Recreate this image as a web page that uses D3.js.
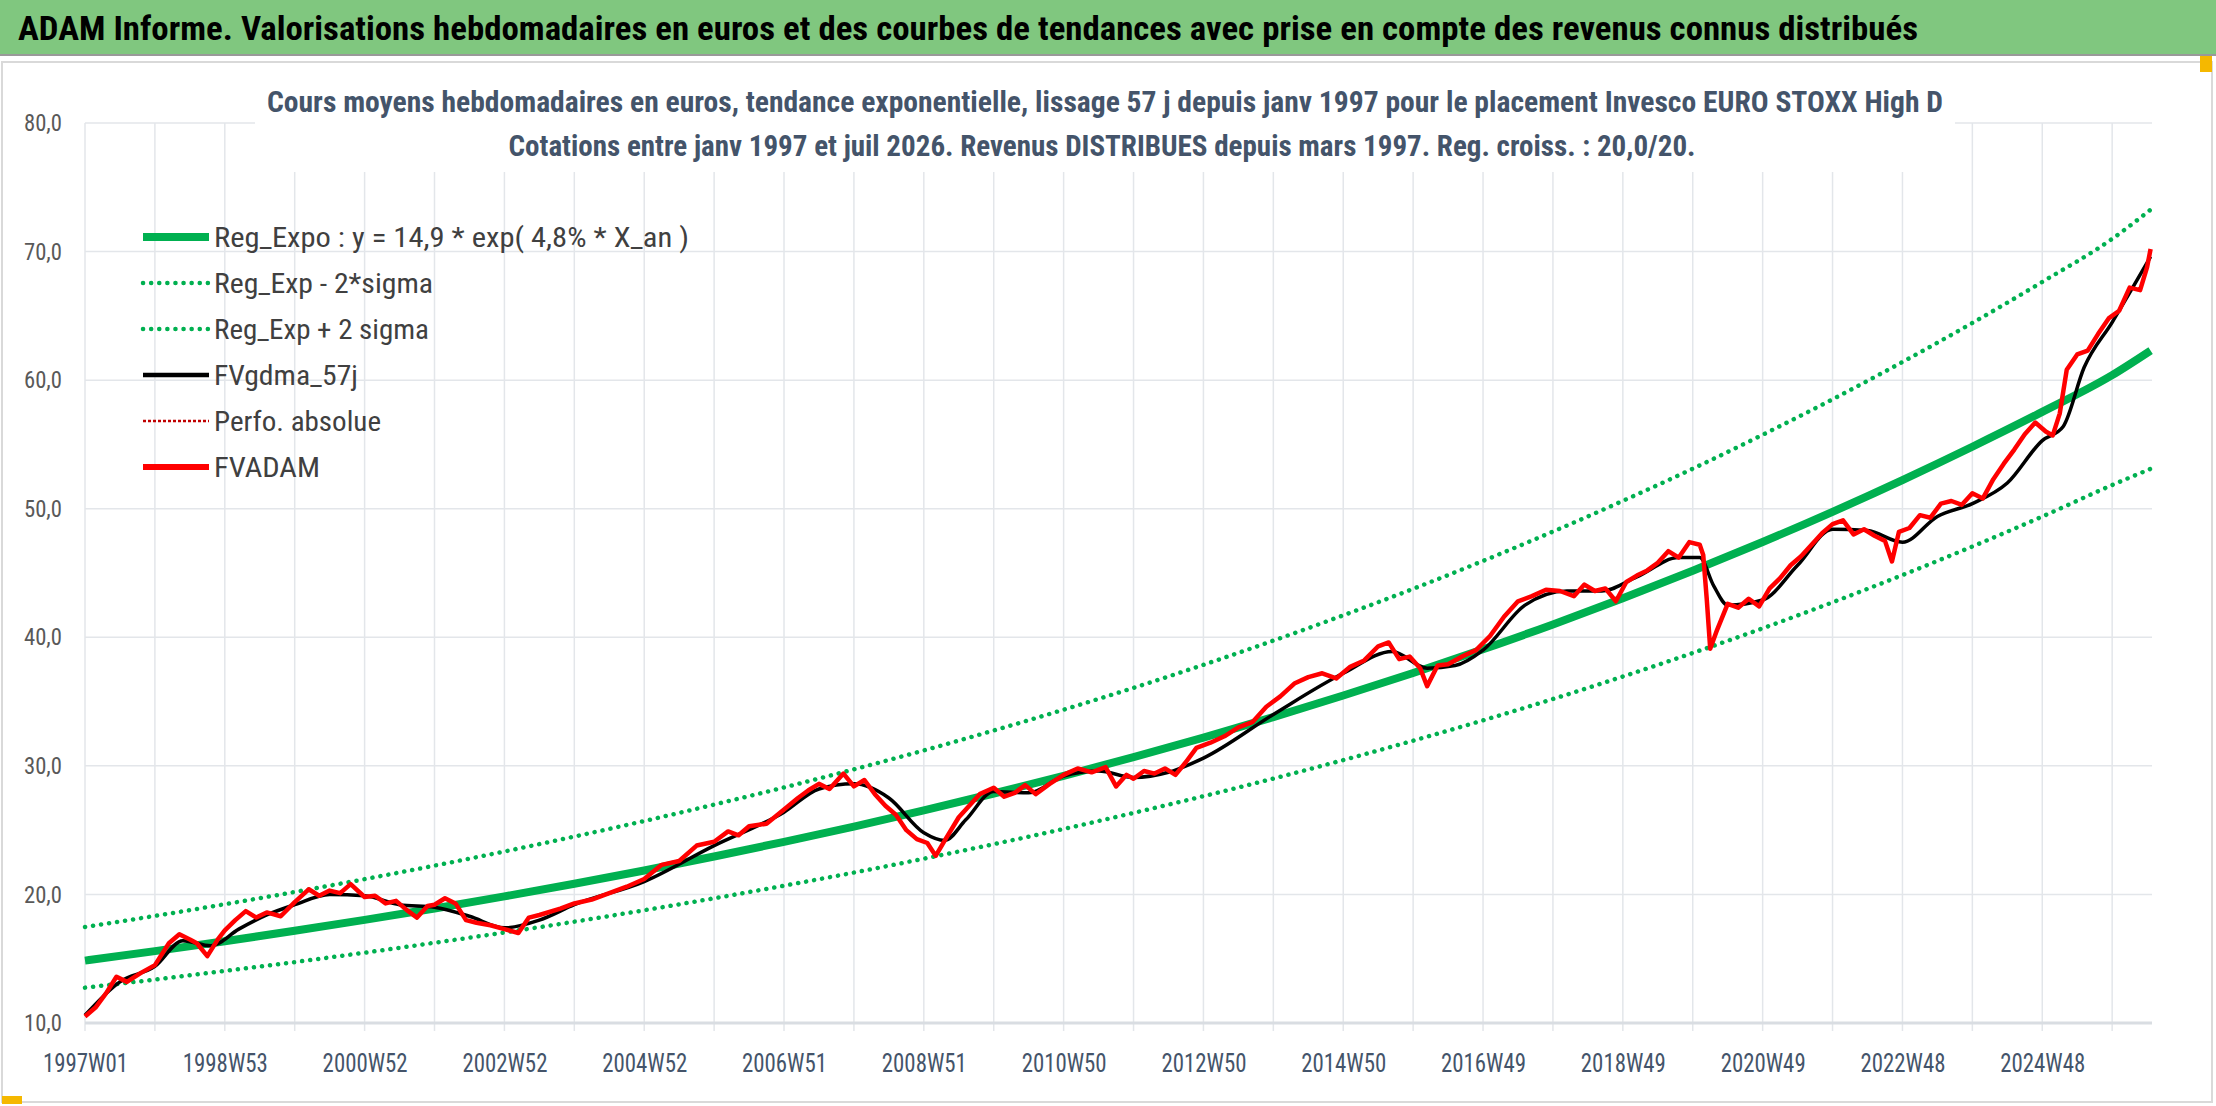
<!DOCTYPE html>
<html><head><meta charset="utf-8">
<script src="https://cdn.jsdelivr.net/npm/d3@7"></script>
<style>body{margin:0;background:#fff}svg{display:block}text{font-family:"Liberation Sans Narrow","Roboto Condensed",Roboto,sans-serif}</style>
</head><body><svg id="c" width="2216" height="1106"></svg>
<script>
const tickYears=[1997,1999,2001,2003,2005,2007,2009,2011,2013,2015,2017,2019,2021,2023,2025];
const tickLabels=["1997W01","1998W53","2000W52","2002W52","2004W52","2006W51","2008W51","2010W50","2012W50","2014W50","2016W49","2018W49","2020W49","2022W48","2024W48"];
const yTicks=[10,20,30,40,50,60,70,80];
const trendYears=[1997,1998,1999,2000,2001,2002,2003,2004,2005,2006,2007,2008,2009,2010,2011,2012,2013,2014,2015,2016,2017,2018,2019,2020,2021,2022,2023,2024,2025,2026,2026.55];
const trendVals=[14.85,15.59,16.36,17.17,18.02,18.91,19.85,20.83,21.86,22.95,24.09,25.28,26.53,27.85,29.23,30.68,32.20,33.79,35.47,37.22,39.07,41.00,43.04,45.17,47.41,49.76,52.23,54.82,57.53,60.39,62.30];
const lowerVals=[12.75,13.38,14.05,14.74,15.47,16.24,17.04,17.88,18.77,19.70,20.68,21.70,22.78,23.91,25.09,26.34,27.64,29.01,30.45,31.96,33.54,35.20,36.95,38.78,40.70,42.72,44.84,47.06,49.39,51.84,53.10];
const upperVals=[17.47,18.33,19.24,20.19,21.19,22.24,23.34,24.50,25.71,26.99,28.32,29.73,31.20,32.75,34.37,36.07,37.86,39.74,41.71,43.77,45.94,48.22,50.61,53.11,55.75,58.51,61.41,64.45,67.64,70.99,73.26];
const fvYears=[1997.0,1997.15,1997.3,1997.45,1997.6,1997.8,1998.0,1998.2,1998.35,1998.5,1998.6,1998.75,1998.9,1999.0,1999.15,1999.3,1999.45,1999.6,1999.8,2000.0,2000.2,2000.35,2000.5,2000.65,2000.8,2001.0,2001.15,2001.3,2001.45,2001.6,2001.75,2001.9,2002.0,2002.15,2002.3,2002.45,2002.6,2002.8,2003.0,2003.2,2003.35,2003.5,2003.8,2004.0,2004.25,2004.5,2004.75,2005.0,2005.25,2005.5,2005.75,2006.0,2006.2,2006.35,2006.5,2006.75,2007.0,2007.2,2007.35,2007.5,2007.65,2007.85,2008.0,2008.15,2008.3,2008.45,2008.6,2008.75,2008.9,2009.05,2009.17,2009.3,2009.5,2009.65,2009.8,2010.0,2010.15,2010.3,2010.45,2010.6,2010.8,2011.0,2011.2,2011.4,2011.6,2011.75,2011.9,2012.0,2012.15,2012.3,2012.45,2012.6,2012.75,2012.9,2013.1,2013.3,2013.5,2013.7,2013.9,2014.1,2014.3,2014.5,2014.7,2014.9,2015.1,2015.3,2015.5,2015.65,2015.8,2015.95,2016.1,2016.2,2016.35,2016.5,2016.7,2016.9,2017.1,2017.3,2017.5,2017.7,2017.9,2018.1,2018.3,2018.45,2018.6,2018.75,2018.9,2019.05,2019.2,2019.35,2019.5,2019.65,2019.8,2019.95,2020.1,2020.15,2020.2,2020.25,2020.35,2020.5,2020.65,2020.8,2020.95,2021.1,2021.25,2021.4,2021.55,2021.7,2021.85,2022.0,2022.15,2022.3,2022.45,2022.6,2022.75,2022.85,2022.95,2023.1,2023.25,2023.4,2023.55,2023.7,2023.85,2024.0,2024.15,2024.3,2024.45,2024.6,2024.75,2024.9,2025.05,2025.15,2025.25,2025.35,2025.5,2025.65,2025.8,2025.95,2026.1,2026.25,2026.4,2026.5,2026.55];
const fvVals=[10.5,11.2,12.3,13.6,13.2,13.9,14.5,16.2,16.9,16.5,16.2,15.2,16.5,17.2,18.0,18.7,18.2,18.6,18.3,19.4,20.4,19.9,20.3,20.1,20.8,19.8,19.9,19.3,19.5,18.8,18.2,19.1,19.2,19.7,19.3,18.0,17.8,17.6,17.3,17.0,18.2,18.4,18.9,19.3,19.6,20.1,20.6,21.2,22.3,22.6,23.8,24.1,24.9,24.6,25.3,25.5,26.6,27.5,28.1,28.6,28.2,29.4,28.4,28.9,27.8,26.9,26.2,25.0,24.3,24.0,23.0,24.2,26.0,26.9,27.8,28.3,27.6,27.9,28.5,27.8,28.6,29.3,29.8,29.5,29.9,28.4,29.3,29.0,29.6,29.4,29.8,29.3,30.3,31.4,31.8,32.3,33.0,33.4,34.6,35.4,36.4,36.9,37.2,36.8,37.7,38.2,39.3,39.6,38.3,38.5,37.6,36.2,37.8,37.9,38.5,39.0,40.1,41.6,42.8,43.2,43.7,43.6,43.2,44.1,43.6,43.8,42.8,44.3,44.8,45.2,45.8,46.7,46.2,47.4,47.2,46.4,43.0,39.1,40.6,42.6,42.3,43.0,42.4,43.8,44.6,45.6,46.3,47.2,48.1,48.8,49.1,48.0,48.4,47.9,47.5,45.9,48.2,48.5,49.5,49.3,50.4,50.6,50.3,51.2,50.8,52.3,53.5,54.6,55.8,56.7,56.0,55.7,57.4,60.8,62.0,62.3,63.6,64.8,65.4,67.2,67.0,68.8,70.2];
const smYears=[1997.0,1997.5,1998.0,1998.4,1998.8,1999.2,1999.6,2000.0,2000.5,2001.0,2001.5,2002.0,2002.5,2003.0,2003.5,2004.0,2005.0,2006.0,2007.0,2007.5,2008.0,2008.5,2009.0,2009.3,2009.6,2010.0,2010.5,2011.0,2011.5,2012.0,2012.5,2013.0,2014.0,2015.0,2015.7,2016.2,2016.6,2017.0,2017.6,2018.2,2018.7,2019.2,2019.8,2020.1,2020.3,2020.5,2021.0,2021.5,2022.0,2022.5,2023.0,2023.5,2024.0,2024.5,2025.0,2025.3,2025.6,2026.0,2026.55];
const smVals=[10.6,13.2,14.4,16.4,16.0,17.3,18.4,19.2,20.0,19.9,19.2,19.0,18.3,17.4,18.0,19.2,21.0,23.8,26.4,28.2,28.6,27.5,24.8,24.2,25.8,28.0,27.9,29.2,29.6,29.1,29.5,30.6,34.0,37.2,38.9,37.6,37.8,39.0,42.5,43.6,43.6,44.7,46.2,46.2,44.0,42.5,42.9,45.6,48.4,48.3,47.4,49.4,50.4,52.0,55.3,56.4,61.0,64.5,69.6];

const W=2216,H=1106,L=85,R=2152,T=123,B=1023;
const svg=d3.select("#c");
const x=d3.scaleLinear().domain([1997,2026.57]).range([L,R]);
const y=d3.scaleLinear().domain([10,80]).range([B,T]);
svg.append("rect").attr("x",0).attr("y",0).attr("width",W).attr("height",54).attr("fill","#80c77f");
svg.append("line").attr("x1",0).attr("x2",W).attr("y1",55).attr("y2",55).attr("stroke","#999").attr("stroke-width",2);
svg.append("text").attr("x",18).attr("y",40).attr("font-size",34).attr("font-weight","bold").attr("fill","#000")
 .attr("textLength",1900).attr("lengthAdjust","spacingAndGlyphs")
 .text("ADAM Informe. Valorisations hebdomadaires en euros et des courbes de tendances avec prise en compte des revenus connus distribués");
svg.append("rect").attr("x",2).attr("y",62).attr("width",W-6).attr("height",H-66).attr("fill","none").attr("stroke","#d9d9d9").attr("stroke-width",2);
svg.append("rect").attr("x",2200).attr("y",56).attr("width",12).attr("height",16).attr("fill","#f5b800");
svg.append("rect").attr("x",2).attr("y",1096).attr("width",20).attr("height",8).attr("fill","#f5b800");
const gridYears=d3.range(1997,2027);
svg.append("g").selectAll("line").data(gridYears).join("line").attr("x1",d=>x(d)).attr("x2",d=>x(d)).attr("y1",T).attr("y2",B+8).attr("stroke","#e3e6ea").attr("stroke-width",1.5);
svg.append("g").selectAll("line").data(yTicks).join("line").attr("x1",L).attr("x2",R).attr("y1",d=>y(d)).attr("y2",d=>y(d)).attr("stroke",d=>d===10?"#d9dde2":"#e3e6ea").attr("stroke-width",d=>d===10?3:1.5);
const xa=d3.axisBottom(x).tickValues(tickYears).tickFormat((d,i)=>tickLabels[i]).tickSize(0);
const gx=svg.append("g").attr("transform",`translate(0,${B+28})`).call(xa);
gx.select(".domain").remove();
gx.selectAll("text").attr("font-size",25).attr("fill","#44546a").attr("textLength",85).attr("lengthAdjust","spacingAndGlyphs");
const ya=d3.axisLeft(y).tickValues(yTicks).tickFormat(d=>d.toFixed(1).replace(".",",")).tickSize(0);
const gy=svg.append("g").attr("transform",`translate(${L-20},0)`).call(ya);
gy.select(".domain").remove();
gy.selectAll("text").attr("font-size",24).attr("fill","#595959").attr("textLength",38).attr("lengthAdjust","spacingAndGlyphs");
svg.append("rect").attr("x",255).attr("y",82).attr("width",1700).attr("height",90).attr("fill","#fff");
svg.append("text").attr("x",1105).attr("y",112).attr("text-anchor","middle").attr("font-size",29).attr("font-weight","bold").attr("fill","#44546a")
 .attr("textLength",1676).attr("lengthAdjust","spacingAndGlyphs")
 .text("Cours moyens hebdomadaires en euros, tendance exponentielle, lissage 57 j depuis janv 1997 pour le placement Invesco EURO STOXX High D");
svg.append("text").attr("x",1102).attr("y",156).attr("text-anchor","middle").attr("font-size",29).attr("font-weight","bold").attr("fill","#44546a")
 .attr("textLength",1187).attr("lengthAdjust","spacingAndGlyphs")
 .text("Cotations entre janv 1997 et juil 2026. Revenus DISTRIBUES depuis mars 1997. Reg. croiss. : 20,0/20.");
const ln=(xs,vs)=>d3.line().x((d,i)=>x(xs[i])).y(d=>y(d)).curve(d3.curveMonotoneX)(vs);
const lnR=(xs,vs)=>d3.line().x((d,i)=>x(xs[i])).y(d=>y(d))(vs);
svg.append("path").attr("d",ln(trendYears,upperVals)).attr("fill","none").attr("stroke","#00b050").attr("stroke-width",4.5).attr("stroke-dasharray","0.1 8").attr("stroke-linecap","round");
svg.append("path").attr("d",ln(trendYears,lowerVals)).attr("fill","none").attr("stroke","#00b050").attr("stroke-width",4.5).attr("stroke-dasharray","0.1 8").attr("stroke-linecap","round");
svg.append("path").attr("d",ln(trendYears,trendVals)).attr("fill","none").attr("stroke","#00b050").attr("stroke-width",8);
svg.append("path").attr("d",ln(smYears,smVals)).attr("fill","none").attr("stroke","#000").attr("stroke-width",3.5);
svg.append("path").attr("d",lnR(fvYears,fvVals)).attr("fill","none").attr("stroke","#ff0000").attr("stroke-width",4.5).attr("stroke-linejoin","round");
const leg=[["Reg_Expo : y = 14,9 * exp( 4,8% *  X_an )","#00b050",8,null,475],["Reg_Exp - 2*sigma","#00b050",4.5,"0.1 8",219],["Reg_Exp + 2 sigma","#00b050",4.5,"0.1 8",215],["FVgdma_57j","#000",4.5,null,144],["Perfo. absolue","#c00000",2.5,"3 2",167],["FVADAM","#ff0000",6,null,106]];
const lg=svg.append("g");
leg.forEach((d,i)=>{const yy=237+i*46;
 lg.append("line").attr("x1",143).attr("x2",209).attr("y1",yy).attr("y2",yy).attr("stroke",d[1]).attr("stroke-width",d[2]).attr("stroke-dasharray",d[3]).attr("stroke-linecap",d[3]&&d[3].startsWith("0.1")?"round":"butt");
 lg.append("text").attr("x",214).attr("y",yy+10).attr("font-size",28).attr("fill","#404040").attr("textLength",d[4]).attr("lengthAdjust","spacingAndGlyphs").text(d[0]);});
</script></body></html>
